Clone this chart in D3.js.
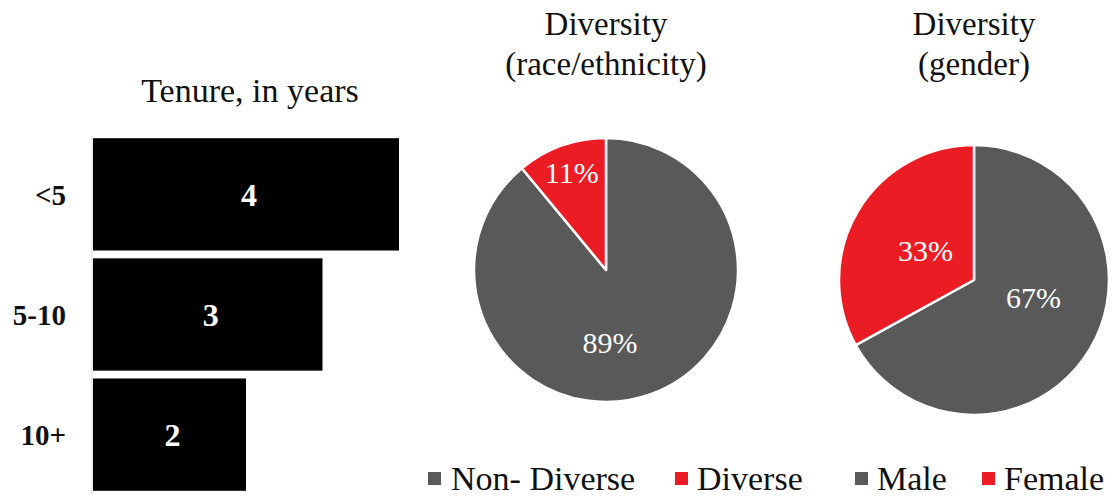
<!DOCTYPE html>
<html>
<head>
<meta charset="utf-8">
<script src="https://cdn.jsdelivr.net/npm/d3@7"></script>
<style>
  html, body { margin: 0; padding: 0; background: #fff; }
  svg text { font-family: "Liberation Serif", "Times New Roman", Times, "DejaVu Serif", serif; }
</style>
</head>
<body>
<svg id="chart" width="1112" height="500"></svg>
<script>
// ---- data ----
const tenureCategories = ["<5", "5-10", "10+"];
const tenureValues = [4, 3, 2];

const raceLabels = ["Non- Diverse", "Diverse"];
const raceValues = [89, 11];

const genderLabels = ["Male", "Female"];
const genderValues = [67, 33];

const GRAY = "#595959";
const RED = "#ec1c24";
const sliceColors = [GRAY, RED];
const FONT = "'Liberation Serif', 'Times New Roman', Times, 'DejaVu Serif', serif";

const svg = d3.select("#chart");

// ---- bar chart ----
const x = d3.scaleLinear().domain([0, 4]).range([93, 399]);
const y = d3.scaleBand().domain(tenureCategories).range([137, 492]).paddingInner(0.065).paddingOuter(0.01);

svg.append("text")
  .attr("x", 250).attr("y", 102)
  .attr("text-anchor", "middle")
  .attr("font-family", FONT)
  .attr("font-size", 34)
  .attr("fill", "#111")
  .text("Tenure, in years");

svg.append("line")
  .attr("x1", 92).attr("x2", 92)
  .attr("y1", 136).attr("y2", 494)
  .attr("stroke", "#d9d9d9").attr("stroke-width", 1);

svg.selectAll("rect.bar")
  .data(tenureCategories)
  .join("rect")
  .attr("class", "bar")
  .attr("x", x(0))
  .attr("y", d => y(d))
  .attr("width", (d, i) => x(tenureValues[i]) - x(0))
  .attr("height", y.bandwidth())
  .attr("fill", "#000");

svg.selectAll("text.val")
  .data(tenureCategories)
  .join("text")
  .attr("class", "val")
  .attr("x", (d, i) => (x(0) + x(tenureValues[i])) / 2 + 3)
  .attr("y", d => y(d) + y.bandwidth() / 2)
  .attr("dy", "0.35em")
  .attr("text-anchor", "middle")
  .attr("font-family", FONT)
  .attr("font-size", 32)
  .attr("font-weight", "bold")
  .attr("fill", "#fff")
  .text((d, i) => tenureValues[i]);

svg.selectAll("text.cat")
  .data(tenureCategories)
  .join("text")
  .attr("class", "cat")
  .attr("x", 66)
  .attr("y", d => y(d) + y.bandwidth() / 2)
  .attr("dy", "0.35em")
  .attr("text-anchor", "end")
  .attr("font-family", FONT)
  .attr("font-size", 29)
  .attr("font-weight", "bold")
  .attr("fill", "#111")
  .text(d => d);

// ---- pies ----
// labelAnchors: label centre as fraction of radius (dx, dy) from the pie centre
function drawPie(cx, cy, r, values, titleLines, labelAnchors) {
  const g = svg.append("g").attr("transform", `translate(${cx},${cy})`);
  const pie = d3.pie().sort(null).value(d => d);
  const arcs = pie(values);
  const arc = d3.arc().innerRadius(0).outerRadius(r);
  g.selectAll("path")
    .data(arcs)
    .join("path")
    .attr("d", arc)
    .attr("fill", (d, i) => sliceColors[i])
    .attr("stroke", "#fff")
    .attr("stroke-width", 2.5)
    .attr("stroke-linejoin", "round");
  g.selectAll("text.pct")
    .data(arcs)
    .join("text")
    .attr("class", "pct")
    .attr("x", (d, i) => labelAnchors[i][0] * r)
    .attr("y", (d, i) => labelAnchors[i][1] * r)
    .attr("dy", "0.35em")
    .attr("text-anchor", "middle")
    .attr("font-family", FONT)
    .attr("font-size", 30)
    .attr("fill", "#fff")
    .text(d => d.data + "%");
  titleLines.forEach((t, i) => {
    svg.append("text")
      .attr("x", cx).attr("y", 35 + i * 40)
      .attr("text-anchor", "middle")
      .attr("font-family", FONT)
      .attr("font-size", 33)
      .attr("fill", "#111")
      .text(t);
  });
}

drawPie(606, 270, 132, raceValues, ["Diversity", "(race/ethnicity)"], [[0.03, 0.55], [-0.26, -0.74]]);
drawPie(974, 280, 135, genderValues, ["Diversity", "(gender)"], [[0.44, 0.13], [-0.36, -0.22]]);

// ---- legends ----
function drawLegend(items, xs, textXs) {
  items.forEach((lab, i) => {
    svg.append("rect")
      .attr("x", xs[i]).attr("y", 472)
      .attr("width", 13).attr("height", 13)
      .attr("fill", sliceColors[i]);
    svg.append("text")
      .attr("x", textXs[i]).attr("y", 490)
      .attr("font-family", FONT)
      .attr("font-size", 34)
      .attr("fill", "#111")
      .text(lab);
  });
}
drawLegend(raceLabels, [428, 675], [451, 697]);
drawLegend(genderLabels, [855, 982], [877, 1004]);
</script>
</body>
</html>
